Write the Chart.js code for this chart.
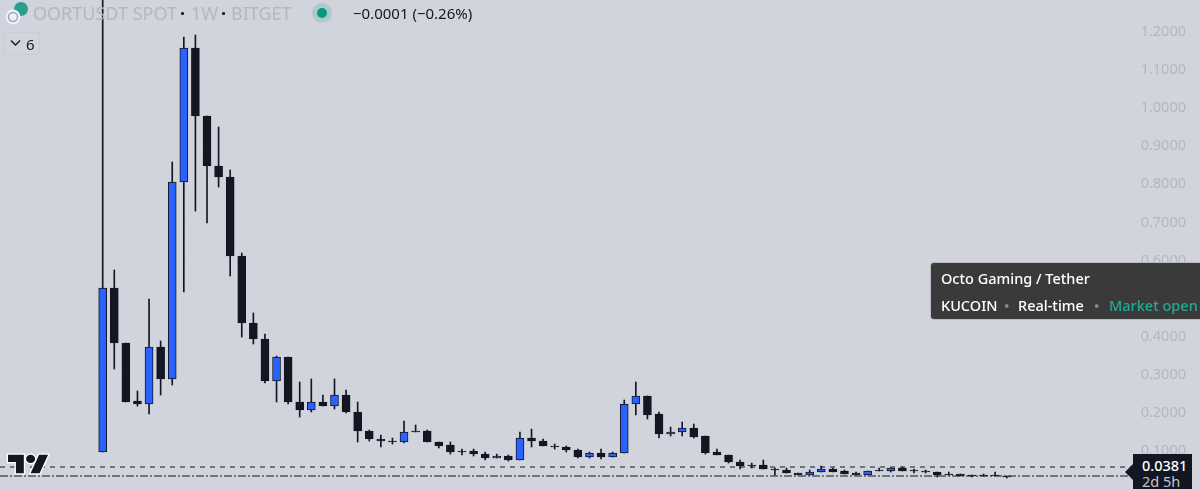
<!DOCTYPE html>
<html>
<head>
<meta charset="utf-8">
<title>OORTUSDT SPOT</title>
<script src="https://cdn.jsdelivr.net/npm/chart.js@4"></script>
<style>
  html, body { margin: 0; padding: 0; background: #d1d4dc; }
  #wrap { position: relative; width: 1200px; height: 489px; overflow: hidden; font-family: "Noto Sans", sans-serif; }
  #grafico { position: absolute; left: 0; top: 0; }
  .txt { position: absolute; white-space: nowrap; line-height: 20px; }
  .cinza { color: #b3b7c2; font-size: 18px; }
  .sep { color: #1a1c22; font-size: 18px; font-weight: 700; }
  #caixa { position: absolute; left: 931px; top: 263px; width: 275px; height: 56px; background: #3a3a3a; border-radius: 3px; color: #fff; font-size: 14.5px; font-weight: 500; box-shadow: 0 0 0 1px #b9bcc4; }
  #etiqueta { position: absolute; left: 1133px; top: 454px; width: 59px; height: 35px; background: #131722; color: #fff; font-size: 14.5px; }
  #seta { position: absolute; left: 1125px; top: 464px; width: 0; height: 0; border-top: 8px solid transparent; border-bottom: 8px solid transparent; border-right: 8px solid #131722; }
  #recolher { position: absolute; left: 3px; top: 32px; width: 37px; height: 23px; border: 1px solid #c9ccd5; border-radius: 3px; box-sizing: border-box; }
</style>
</head>
<body>
<div id="wrap">
  <canvas id="grafico" width="1200" height="489"></canvas>

  <!-- cabecalho -->
  <svg style="position:absolute;left:5px;top:2px" width="26" height="26" viewBox="0 0 26 26">
    <circle cx="16" cy="7" r="7" fill="#2a9d8f"/>
    <circle cx="8" cy="15" r="7.5" fill="#eef0f4"/>
    <circle cx="8" cy="15" r="4.5" fill="none" stroke="#8fa6d8" stroke-width="1.5"/>
  </svg>
  <div class="txt cinza" style="left:33px;top:3px">OORTUSDT SPOT</div>
  <div class="txt sep" style="left:180px;top:3px">·</div>
  <div class="txt cinza" style="left:191px;top:3px">1W</div>
  <div class="txt sep" style="left:221px;top:3px">·</div>
  <div class="txt cinza" style="left:231px;top:3px">BITGET</div>
  <svg style="position:absolute;left:312px;top:3px" width="20" height="20">
    <circle cx="10" cy="10" r="10" fill="#089981" fill-opacity="0.18"/>
    <circle cx="10" cy="10" r="5" fill="#089981"/>
  </svg>
  <div class="txt" style="left:353px;top:3px;font-size:15px;color:#131722">−0.0001 (−0.26%)</div>

  <div id="recolher"></div>
  <svg style="position:absolute;left:10px;top:39px" width="12" height="8">
    <path d="M1 1.5 L5.5 6 L10 1.5" fill="none" stroke="#131722" stroke-width="1.4"/>
  </svg>
  <div class="txt" style="left:26px;top:34px;font-size:15px;color:#131722">6</div>

  <!-- caixa do simbolo -->
  <div id="caixa">
    <div class="txt" style="left:10px;top:5px">Octo Gaming / Tether</div>
    <div class="txt" style="left:10px;top:32px">KUCOIN</div>
    <div class="txt" style="left:73px;top:32px;color:#8a8a8a">•</div>
    <div class="txt" style="left:87px;top:32px">Real-time</div>
    <div class="txt" style="left:163px;top:32px;color:#8a8a8a">•</div>
    <div class="txt" style="left:178px;top:32px;color:#22ab94">Market open</div>
  </div>

  <!-- etiqueta do preco -->
  <div id="seta"></div>
  <div id="etiqueta">
    <div class="txt" style="left:9px;top:1px;font-weight:500">0.0381</div>
    <div class="txt" style="left:9px;top:17px;color:#c4c6cc">2d 5h</div>
  </div>

  <!-- logo -->
  <svg style="position:absolute;left:6px;top:453px;overflow:visible" width="44" height="22" viewBox="-1.8 2.2 39 21.6" preserveAspectRatio="none">
    <path d="M14 22H7V11H0V4h14v18zM28 22h-8l7.5-18h8L28 22z" fill="#131722" stroke="#fff" stroke-width="2.4" paint-order="stroke"/>
    <circle cx="20" cy="8" r="4" fill="#131722" stroke="#fff" stroke-width="2.4" paint-order="stroke"/>
  </svg>
</div>

<script>
// ---- Dados ----
const aberturas = [
  0.0974, 0.5278, 0.3835, 0.2312, 0.2234, 0.3730, 0.2890, 0.8060, 1.1577, 0.9793,
  0.8480, 0.8192, 0.6118, 0.4360, 0.3940, 0.2837, 0.3467, 0.2286, 0.2076, 0.2286,
  0.2181, 0.2470, 0.2024, 0.1525, 0.1315, 0.1262, 0.1236, 0.1525, 0.1525, 0.1236,
  0.1157, 0.1000, 0.1000, 0.0921, 0.0816, 0.0869, 0.0764, 0.1341, 0.1262, 0.1131,
  0.1105, 0.1026, 0.0843, 0.0948, 0.0843, 0.0948, 0.2234, 0.2444, 0.1971, 0.1446,
  0.1499, 0.1604, 0.1394, 0.0974, 0.0895, 0.0711, 0.0633, 0.0633, 0.0528, 0.0501,
  0.0423, 0.0370, 0.0449, 0.0528, 0.0475, 0.0423, 0.0370, 0.0501, 0.0475, 0.0554,
  0.0501, 0.0475, 0.0449, 0.0396, 0.0396, 0.0370, 0.0370, 0.0370, 0.0344
];
const fechamentos = [
  0.5278, 0.3835, 0.2286, 0.2234, 0.3730, 0.2890, 0.8060, 1.1577, 0.9793, 0.8480,
  0.8192, 0.6118, 0.4360, 0.3940, 0.2837, 0.3467, 0.2286, 0.2076, 0.2286, 0.2181,
  0.2470, 0.2024, 0.1525, 0.1315, 0.1262, 0.1236, 0.1499, 0.1499, 0.1236, 0.1131,
  0.0974, 0.0974, 0.0921, 0.0816, 0.0869, 0.0764, 0.1341, 0.1262, 0.1131, 0.1105,
  0.1026, 0.0843, 0.0948, 0.0843, 0.0948, 0.2234, 0.2444, 0.1945, 0.1446, 0.1499,
  0.1604, 0.1367, 0.0948, 0.0895, 0.0711, 0.0606, 0.0606, 0.0528, 0.0501, 0.0423,
  0.0370, 0.0449, 0.0528, 0.0449, 0.0396, 0.0370, 0.0475, 0.0475, 0.0554, 0.0475,
  0.0475, 0.0449, 0.0370, 0.0370, 0.0344, 0.0344, 0.0344, 0.0344, 0.0318
];
const maximas = [
  1.3000, 0.5751, 0.3835, 0.2575, 0.4990, 0.3887, 0.8585, 1.1866, 1.1919, 0.9793,
  0.9504, 0.8375, 0.6197, 0.4622, 0.4071, 0.3493, 0.3467, 0.2811, 0.2890, 0.2470,
  0.2890, 0.2601, 0.2286, 0.1551, 0.1420, 0.1341, 0.1787, 0.1682, 0.1551, 0.1236,
  0.1236, 0.1052, 0.1052, 0.0974, 0.0921, 0.0895, 0.1499, 0.1577, 0.1315, 0.1184,
  0.1131, 0.1052, 0.0974, 0.1052, 0.0974, 0.2339, 0.2811, 0.2444, 0.2024, 0.1630,
  0.1761, 0.1709, 0.1394, 0.1052, 0.0895, 0.0764, 0.0685, 0.0764, 0.0554, 0.0554,
  0.0423, 0.0501, 0.0606, 0.0554, 0.0501, 0.0449, 0.0475, 0.0554, 0.0554, 0.0580,
  0.0528, 0.0501, 0.0449, 0.0449, 0.0396, 0.0370, 0.0396, 0.0449, 0.0344
];
const minimas = [
  0.0974, 0.3152, 0.2286, 0.2181, 0.1971, 0.2470, 0.2732, 0.5173, 0.7299, 0.6984,
  0.7929, 0.5593, 0.3992, 0.3808, 0.2785, 0.2286, 0.2234, 0.1892, 0.2024, 0.2181,
  0.2102, 0.1997, 0.1236, 0.1262, 0.1105, 0.1184, 0.1210, 0.1499, 0.1236, 0.1079,
  0.0921, 0.0895, 0.0869, 0.0764, 0.0816, 0.0738, 0.0764, 0.1105, 0.1131, 0.1052,
  0.0974, 0.0816, 0.0816, 0.0790, 0.0843, 0.0948, 0.1945, 0.1840, 0.1341, 0.1394,
  0.1394, 0.1341, 0.0921, 0.0895, 0.0685, 0.0528, 0.0554, 0.0528, 0.0370, 0.0423,
  0.0370, 0.0370, 0.0449, 0.0449, 0.0396, 0.0370, 0.0370, 0.0475, 0.0449, 0.0475,
  0.0423, 0.0423, 0.0318, 0.0370, 0.0344, 0.0318, 0.0344, 0.0344, 0.0291
];
const ticksPreco = [0.1, 0.2, 0.3, 0.4, 0.5, 0.6, 0.7, 0.8, 0.9, 1.0, 1.1, 1.2];
const nivelTracejado = 0.0580;
const nivelPontoTraco = 0.0344;

// ---- Velas ----
const AZUL = "#2962ff";
const PRETO = "#131722";
const XMIN = -8.86;
const XMAX = 92.26;

const corpos = aberturas.map((o, i) => ({ x: i, y: [o, fechamentos[i]] }));
const pavios = maximas.map((h, i) => ({ x: i, y: [minimas[i], h] }));
const coresCorpo = aberturas.map((o, i) => (fechamentos[i] > o ? AZUL : PRETO));

function linhaNivel(valor, tracos) {
  return {
    type: "line",
    data: [{ x: XMIN, y: valor }, { x: XMAX, y: valor }],
    borderColor: PRETO,
    borderWidth: 1,
    borderDash: tracos,
    pointRadius: 0,
    order: 3,
  };
}

new Chart(document.getElementById("grafico"), {
  type: "bar",
  data: {
    datasets: [
      linhaNivel(nivelTracejado, [5, 5]),
      linhaNivel(nivelPontoTraco, [8, 2, 2, 2]),
      { data: pavios, backgroundColor: PRETO, barThickness: 1, grouped: false, order: 2 },
      {
        data: corpos,
        backgroundColor: coresCorpo,
        borderColor: PRETO,
        borderWidth: 1,
        borderSkipped: false,
        barThickness: 8,
        grouped: false,
        order: 1,
      },
    ],
  },
  options: {
    responsive: false,
    animation: false,
    events: [],
    layout: { padding: 0 },
    plugins: { legend: { display: false }, tooltip: { enabled: false } },
    scales: {
      x: { type: "linear", display: false, offset: false, min: XMIN, max: XMAX },
      y: {
        position: "right",
        min: 0.0003,
        max: 1.2837,
        border: { display: false },
        grid: { color: "#d2d5dd", drawTicks: false },
        afterBuildTicks: (eixo) => {
          eixo.ticks = ticksPreco.map((v) => ({ value: v }));
        },
        afterFit: (eixo) => {
          eixo.paddingTop = 0;
          eixo.paddingBottom = 0;
        },
        ticks: {
          mirror: true,
          padding: 14,
          autoSkip: false,
          color: "#b3b7c2",
          font: { family: "Noto Sans", size: 14.5 },
          callback: (v) => v.toFixed(4),
        },
      },
    },
  },
});
</script>
</body>
</html>
